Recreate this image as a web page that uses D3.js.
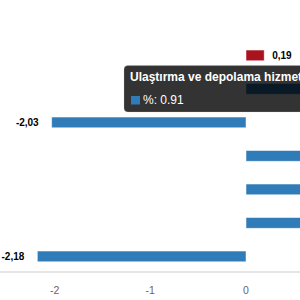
<!DOCTYPE html>
<html>
<head>
<meta charset="utf-8">
<script src="https://cdn.jsdelivr.net/npm/d3@7"></script>
<style>
  html, body { margin: 0; padding: 0; background: #fff; }
  svg { display: block; font-family: "Liberation Sans", Arial, Helvetica, sans-serif; }
  .dlabel { font-size: 10px; font-weight: bold; fill: #000; stroke: #fff; stroke-width: 2px; paint-order: stroke; }
  .tick-label { font-size: 10.5px; fill: #666; }
</style>
</head>
<body>
<svg id="chart" width="300" height="300"></svg>
<script>
// sector names (only the highlighted one is readable in the picture)
const categories = [
  'Elektrik, gaz, buhar',
  'Ulaştırma ve depolama hizmetleri',
  'Konaklama ve yiyecek hizmetleri',
  'Bilgi ve iletişim',
  'Mesleki, bilimsel ve teknik',
  'İdari ve destek hizmetleri',
  'Diğer hizmetler'
]
const values = [0.19, 0.91, -2.03, 1.12, 0.78, 1.34, -2.18]
const barColors = ['#a8131d', '#2f7cb8', '#2f7cb8', '#2f7cb8', '#2f7cb8', '#2f7cb8', '#2f7cb8']
const xTicks = [-2, -1, 0]
const hovered = 1   // index shown in the tooltip

const W = 300, H = 300
const svg = d3.select('#chart')

const x = d3.scaleLinear().domain([-2.57, 0.564]).range([0, W])
const y = d3.scaleBand().domain(categories).range([38.65, 273.15]).paddingInner(0.68).paddingOuter(0.34)

const fmt = v => d3.format('.2f')(v).replace('.', ',').replace('−', '-')

// axis baseline
svg.append('line')
  .attr('x1', 0).attr('x2', W).attr('y1', 272).attr('y2', 272)
  .attr('stroke', '#e6e6e6').attr('stroke-width', 2)

// bars
const rows = categories.map((c, i) => ({ c, v: values[i], color: barColors[i] }))
svg.append('g').selectAll('rect').data(rows).join('rect')
  .attr('x', d => x(Math.min(0, d.v)))
  .attr('width', d => Math.abs(x(d.v) - x(0)))
  .attr('y', d => y(d.c))
  .attr('height', y.bandwidth())
  .attr('fill', d => d.color)
  .attr('stroke', 'rgba(255,255,255,0.6)').attr('stroke-width', 0.8)

// data labels (those past the right edge fall out of view, as in the crop)
const labelX = d => d.v < 0 ? x(d.v) - 13 : x(d.v) + 8
svg.append('g').selectAll('text').data(rows.filter(d => labelX(d) < W - 20)).join('text')
  .attr('class', 'dlabel')
  .attr('x', labelX)
  .attr('y', d => y(d.c) + y.bandwidth() / 2 + 3.5)
  .attr('text-anchor', d => d.v < 0 ? 'end' : 'start')
  .text(d => fmt(d.v))

// x tick labels
svg.append('g').selectAll('text').data(xTicks).join('text')
  .attr('class', 'tick-label')
  .attr('x', d => x(d))
  .attr('y', 294)
  .attr('text-anchor', 'middle')
  .text(d => d3.format('')(d).replace('−', '-'))

// tooltip
const tip = svg.append('g').attr('transform', 'translate(124,65.5)')
tip.append('rect')
  .attr('width', 200).attr('height', 46.5).attr('rx', 4)
  .attr('fill', 'rgba(0,0,0,0.8)')
  .attr('stroke', 'rgba(200,200,200,0.5)').attr('stroke-width', 0.5)
tip.append('text')
  .attr('x', 6).attr('y', 15.5)
  .attr('fill', '#fff').attr('font-size', 12).attr('font-weight', 'bold')
  .text(categories[hovered])
tip.append('rect')
  .attr('x', 7).attr('y', 30.5).attr('width', 9).attr('height', 8.5)
  .attr('fill', barColors[hovered])
tip.append('text')
  .attr('x', 19).attr('y', 38.5)
  .attr('fill', '#fff').attr('font-size', 12)
  .text('%: ' + values[hovered])
</script>
</body>
</html>
